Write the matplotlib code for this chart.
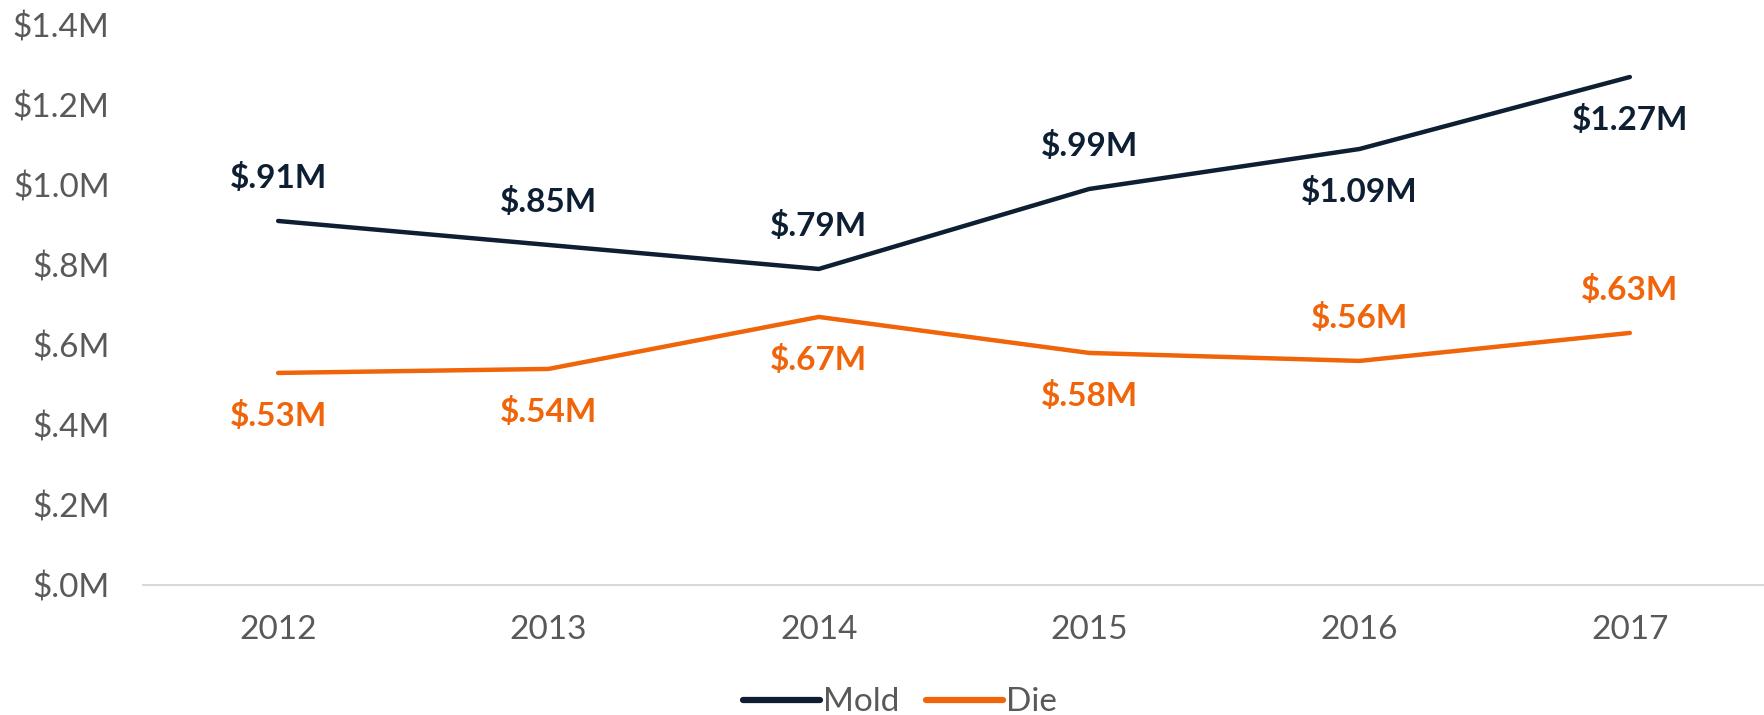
import matplotlib
matplotlib.use("Agg")
import matplotlib.pyplot as plt

# data
years = ["2012", "2013", "2014", "2015", "2016", "2017"]
mold = [0.91, 0.85, 0.79, 0.99, 1.09, 1.27]
die = [0.53, 0.54, 0.67, 0.58, 0.56, 0.63]
mold_labels = ["$.91M", "$.85M", "$.79M", "$.99M", "$1.09M", "$1.27M"]
die_labels = ["$.53M", "$.54M", "$.67M", "$.58M", "$.56M", "$.63M"]
mold_above = [True, True, True, True, False, False]
die_above = [False, False, False, False, True, True]
y_ticks = [0.0, 0.2, 0.4, 0.6, 0.8, 1.0, 1.2, 1.4]
y_tick_labels = ["$.0M", "$.2M", "$.4M", "$.6M", "$.8M", "$1.0M", "$1.2M", "$1.4M"]

navy = "#0E1E33"
orange = "#F0640A"
grey = "#595959"

plt.rcParams["font.family"] = ["Lato", "DejaVu Sans"]

fig = plt.figure(figsize=(17.65, 7.15), dpi=100)
ax = fig.add_axes([0.081, 0.182, 0.919, 0.783])

x = list(range(len(years)))
ax.plot(x, mold, color=navy, lw=3.2, solid_capstyle="round", label="Mold")
ax.plot(x, die, color=orange, lw=3.2, solid_capstyle="round", label="Die")

for i in x:
    off = 31 if mold_above[i] else -31
    ax.annotate(mold_labels[i], (i, mold[i]), xytext=(0, off), textcoords="offset points",
                ha="center", va="center", fontsize=24, fontweight="bold", color=navy)
    off = 31 if die_above[i] else -31
    ax.annotate(die_labels[i], (i, die[i]), xytext=(0, off), textcoords="offset points",
                ha="center", va="center", fontsize=24, fontweight="bold", color=orange)

ax.set_xlim(-0.5, 5.5)
ax.set_ylim(0, 1.4)
ax.set_xticks(x)
ax.set_xticklabels(years)
ax.set_yticks(y_ticks)
ax.set_yticklabels(y_tick_labels)
ax.tick_params(axis="both", length=0, labelsize=24, labelcolor=grey)
ax.tick_params(axis="x", pad=22)
ax.tick_params(axis="y", pad=24)

for s in ["top", "right", "left"]:
    ax.spines[s].set_visible(False)
ax.spines["bottom"].set_color("#D9D9D9")
ax.spines["bottom"].set_linewidth(1.5)

leg = fig.legend(loc="lower center", bbox_to_anchor=(0.51, -0.045), ncol=2, frameon=False,
                 fontsize=24, handlelength=2.3, handletextpad=0.1, columnspacing=0.8)
for t in leg.get_texts():
    t.set_color(grey)
for h in leg.get_lines():
    h.set_linewidth(4.5)

fig.savefig("out.png", dpi=100)
